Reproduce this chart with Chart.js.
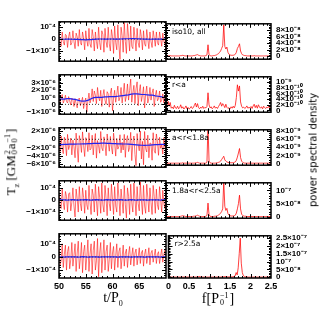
<!DOCTYPE html>
<html><head><meta charset="utf-8">
<script src="https://cdn.jsdelivr.net/npm/chart.js@4.4.0/dist/chart.umd.min.js"></script>
<style>
html,body{margin:0;padding:0;background:#fff;}
#wrap{position:relative;width:319px;height:319px;overflow:hidden;background:#fff;}
canvas{position:absolute;}
.t{position:absolute;color:#000;white-space:nowrap;line-height:1;will-change:transform;-webkit-font-smoothing:antialiased;}
.st{display:inline-flex;flex-direction:column;font-size:8px;line-height:7px;vertical-align:5px;margin:0 1px;}
sub{font-size:8px;}
</style></head><body><div id="wrap">
<div class="t" style="left:12px;top:162px;transform:translate(-50%,-50%) rotate(-90deg);font:13px 'Liberation Serif';">T<sub>z</sub> [GM<span class="st"><span>2</span><span>0</span></span>a<span class="st"><span>−1</span><span>0</span></span>]</div>
<div class="t" style="left:313px;top:150px;transform:translate(-50%,-50%) rotate(-90deg);font:10px 'DejaVu Sans';">power spectral density</div>
<div class="t" style="left:113px;top:299px;transform:translate(-50%,-50%);font:14px 'Liberation Serif';">t/P<sub>0</sub></div>
<div class="t" style="left:218px;top:299px;transform:translate(-50%,-50%);font:14px 'Liberation Serif';">f[P<span class="st"><span>−1</span><span>0</span></span>]</div>
</div>
<script>
// ---------------- DATA ----------------
const T_START = 50, T_STEP = 0.2, MEAN_STEP = 0.5, F_STEP = 0.025;
const PANEL_NAMES = ['iso10, all', 'r<a', 'a<r<1.8a', '1.8a<r<2.5a', 'r>2.5a'];

// torque time series (red), units given by TZ_UNITS
const TZ_ALL = [0.5,-0.3,-0.6,0.6,-0.2,-0.5,0.4,0.3,-0.7,0.2,0.6,-0.5,
 -0.3,0.7,-0.2,-0.8,0.5,0.2,-0.6,0.8,-0.3,-0.5,0.6,0.1,
 -0.9,0.7,-0.1,-0.6,0.9,-0.4,-0.7,0.8,0.2,-1.0,0.6,-0.2,
 -0.8,1.0,-0.3,-0.9,0.7,0.4,-1.1,0.9,-0.2,-0.7,1.0,-0.4,
 -1.0,0.8,0.2,-1.2,1.1,-0.3,-0.9,1.2,-0.5,-1.7,1.0,0.3,
 -1.1,1.4,-0.2,-1.2,1.3,0.2,-1.0,1.1,-0.6,-0.8,1.0,0.1,
 -1.0,0.9,-0.3,-0.7,0.8,0.2,-0.9,0.7,-0.4,-0.6,0.8,0.0,
 -0.8,0.6,-0.2,-0.7,0.7,0.1,-0.6,0.6,-0.3,-0.5,0.6,0.0,
 -0.6,0.5,-0.2,-0.4,0.5];
const TZ_IN = [1.2,0.3,0.9,1.4,0.2,0.6,1.3,0.4,0.2,1.1,0.5,-0.1,
 0.9,0.6,-0.3,0.8,0.1,-0.5,0.7,0.9,-0.2,0.4,1.0,-0.6,
 0.3,0.9,-1.1,0.5,1.6,0.2,0.8,2.2,0.4,1.9,1.3,0.1,
 2.4,1.0,0.5,2.0,-0.3,1.2,2.1,0.6,0.0,1.8,1.5,-0.4,
 1.6,2.3,-0.9,0.9,2.0,0.3,1.4,2.6,0.5,1.0,2.4,0.2,
 1.5,3.0,0.4,1.2,2.9,0.6,2.0,3.6,0.3,1.6,2.7,0.1,
 2.2,3.2,-0.2,1.8,2.8,0.4,1.3,2.5,-0.5,1.5,2.6,0.2,
 0.9,2.4,0.6,1.6,2.2,-0.3,1.2,2.0,0.5,0.8,1.9,0.3,
 0.6,1.5,0.2,1.1,0.8];
const TZ_MID = [-0.5,-3.0,0.8,-2.2,-3.5,0.5,-1.0,-4.0,1.2,-2.5,-1.5,0.3,
 -3.8,-0.2,-1.8,-4.5,1.5,-2.0,-5.6,0.9,-0.8,-3.2,1.8,-1.5,
 -4.2,0.4,-0.5,-3.0,1.6,-2.6,-2.2,1.0,-3.8,-0.6,1.4,-4.6,
 -0.3,-1.6,-3.4,1.9,-2.1,-2.8,0.6,-1.2,-4.0,1.3,-0.8,-2.9,
 0.7,-1.9,-3.6,1.5,-0.9,-4.1,0.2,-2.4,-1.7,1.1,-3.3,-0.7,
 -2.6,1.2,-4.4,-0.4,0.9,-3.0,-2.0,1.7,-5.2,-0.9,0.8,-3.7,
 -6.4,1.4,-1.2,-2.8,2.0,-4.8,-0.5,-6.2,1.9,-2.3,-3.1,1.0,
 -4.5,-0.9,-1.0,-5.1,1.6,-2.7,-3.4,1.3,-0.6,-3.9,0.5,-2.2,
 -1.4,-3.6,0.4,-2.0,-1.0];
const TZ_OUTER = [0.6,-0.4,-0.7,0.9,-0.2,-0.8,0.7,0.3,-1.0,0.5,0.6,-0.9,
 -0.2,1.0,-0.5,-1.4,0.9,0.1,-1.0,1.1,-0.3,-0.9,1.0,0.2,
 -1.1,0.8,-0.4,-0.8,1.2,-0.2,-1.2,0.9,0.4,-1.0,1.3,-0.1,
 -1.3,1.1,0.2,-1.1,1.4,-0.4,-1.0,1.2,0.1,-1.3,1.0,-0.3,
 -0.9,1.3,0.0,-1.2,1.1,-0.5,-1.0,1.4,0.2,-1.3,0.9,-0.1,
 -1.1,1.2,-0.4,-1.5,1.0,0.3,-1.2,1.3,-0.2,-1.0,1.4,0.1,
 -1.3,1.1,-0.3,-0.9,1.5,0.0,-1.2,1.2,-0.5,-1.1,1.3,0.2,
 -1.0,1.0,-0.2,-1.2,1.2,0.3,-1.1,0.9,-0.4,-0.8,1.1,0.0,
 -1.0,0.8,-0.3,-0.7,0.9];
const TZ_FAR = [0.7,-0.6,-0.3,1.0,-0.8,0.2,0.9,-1.0,0.4,0.8,-0.9,-0.2,
 1.1,-0.7,0.1,1.0,-1.1,0.3,1.2,-0.9,-0.1,1.1,-1.2,0.4,
 0.9,-1.0,0.0,1.3,-1.1,0.2,1.0,-1.3,0.5,1.2,-1.0,-0.3,
 1.4,-1.5,0.3,1.1,-1.2,0.0,1.3,-1.0,0.4,0.9,-1.1,-0.2,
 1.1,-0.9,0.3,0.8,-1.0,0.1,1.0,-0.8,0.4,0.7,-0.9,0.0,
 0.9,-0.7,0.3,0.6,-0.8,0.2,0.8,-0.6,0.1,0.7,-0.7,0.3,
 0.6,-0.6,0.0,0.7,-0.5,0.3,0.5,-0.7,0.2,0.6,-0.5,0.0,
 0.7,-0.6,0.3,0.5,-0.4,0.1,0.6,-0.5,0.2,0.4,-0.5,0.1,
 0.6,-0.4,0.2,0.5,-0.3];

// running mean (blue), same units
const MEAN_ALL = [0.0,-0.01,-0.01,0.0,0.0,-0.01,-0.02,-0.03,-0.04,-0.05,
 -0.06,-0.05,-0.04,-0.02,0.0,0.01,0.01,0.0,0.0,0.01,
 0.01,0.0,0.0,0.01,0.02,0.03,0.03,0.04,0.04,0.03,
 0.02,0.01,0.0,0.0,-0.01,0.0,0.0,0.01,0.0,-0.01,0.0];
const MEAN_IN = [0.8,0.75,0.75,0.8,0.8,0.75,0.7,0.6,0.5,0.45,
 0.5,0.6,0.8,0.95,1.0,1.0,1.0,1.05,1.05,1.1,
 1.1,1.1,1.15,1.2,1.25,1.3,1.35,1.45,1.5,1.5,
 1.45,1.4,1.4,1.35,1.3,1.3,1.2,1.15,1.1,1.0,0.9];
const MEAN_MID = [-1.3,-1.3,-1.25,-1.25,-1.2,-1.2,-1.2,-1.15,-1.15,-1.1,
 -1.1,-1.05,-1.05,-1.0,-1.0,-1.0,-0.95,-0.95,-1.0,-1.0,
 -1.05,-1.05,-1.1,-1.1,-1.15,-1.15,-1.2,-1.25,-1.3,-1.35,
 -1.4,-1.45,-1.5,-1.45,-1.4,-1.35,-1.3,-1.3,-1.25,-1.25,-1.2];
const MEAN_OUTER = [0.0,0.01,0.0,-0.01,0.0,0.02,0.0,-0.02,0.0,0.01,
 0.03,0.0,-0.02,0.0,0.02,0.01,-0.01,0.0,0.02,0.0,
 -0.02,0.0,0.01,0.02,0.0,-0.01,0.0,0.02,0.0,-0.01,
 0.0,0.01,0.0,-0.02,0.0,0.01,0.0,0.0,-0.01,0.0,0.0];
const MEAN_FAR = [0.01,0.0,-0.01,0.0,0.01,0.0,0.0,-0.01,0.0,0.02,
 0.0,-0.01,0.0,0.01,0.0,-0.02,0.0,0.01,0.0,0.0,
 0.01,0.0,-0.01,0.0,0.0,0.01,0.0,-0.01,0.0,0.01,
 0.0,0.0,-0.01,0.0,0.01,0.0,0.0,0.0,-0.01,0.0,0.0];
const TZ_UNITS = [1e-4, 1e-6, 1e-6, 1e-4, 1e-4];

// power spectral density, f = 0 .. 2.5 step F_STEP
const PSD_ALL = [0.3,0.2,0.1,0.1,0.2,0.1,0.1,0.1,0.1,0.1,
 0.1,0.1,0.1,0.1,0.2,0.2,0.3,0.2,0.1,0.1,
 0.1,0.1,0.1,0.1,0.1,0.1,0.2,0.2,0.3,0.4,
 0.5,0.3,0.2,0.1,0.1,0.1,0.1,0.1,0.2,0.4,
 3.5,0.5,0.2,0.1,0.1,0.2,0.2,0.3,0.4,0.6,
 0.8,1.2,1.6,2.4,3.2,9.6,3.0,2.2,2.8,1.2,
 0.6,0.4,0.3,0.3,0.3,0.4,0.6,1.2,2.4,3.0,
 3.8,1.6,0.8,0.4,0.3,0.2,0.2,0.1,0.1,0.1,
 0.1,0.1,0.1,0.1,0.2,0.1,0.1,0.1,0.1,0.1,
 0.1,0.1,0.1,0.1,0.1,0.1,0.1,0.1,0.1,0.1,0.1];
const PSD_IN = [1.0,2.0,3.2,1.5,2.8,0.8,1.2,0.6,1.8,0.9,
 0.7,1.5,0.6,1.0,2.0,0.8,1.3,0.5,0.9,1.6,
 0.6,1.1,0.5,0.8,1.4,0.7,1.0,1.8,2.6,1.2,
 2.4,1.0,0.6,1.2,0.8,1.5,0.7,1.1,0.9,1.4,
 6.2,2.0,0.9,1.3,0.6,1.0,1.6,0.8,1.2,0.7,
 1.4,2.0,2.8,1.5,2.4,1.8,1.0,2.2,1.1,0.7,
 1.0,0.6,1.3,0.8,1.5,0.9,1.8,4.5,9.0,6.8,
 8.6,3.0,1.5,0.9,1.2,0.7,1.0,1.6,0.8,1.1,
 0.9,1.4,0.7,1.6,2.2,1.0,1.8,0.8,2.0,1.2,
 0.8,1.3,0.6,1.5,1.0,0.7,1.2,0.9,1.6,0.8,1.0];
const PSD_MID = [0.2,0.1,0.1,0.1,0.1,0.1,0.1,0.1,0.1,0.1,
 0.1,0.1,0.1,0.1,0.1,0.1,0.2,0.1,0.1,0.1,
 0.1,0.1,0.1,0.1,0.1,0.1,0.1,0.1,0.2,0.2,
 0.3,0.2,0.1,0.1,0.1,0.1,0.1,0.1,0.1,0.3,
 9.5,0.6,0.2,0.1,0.1,0.1,0.1,0.1,0.2,0.2,
 0.3,0.4,0.6,1.0,1.4,1.8,0.9,0.6,0.4,0.3,
 0.2,0.2,0.2,0.2,0.2,0.3,0.4,0.8,1.6,2.6,
 3.7,1.5,0.6,0.3,0.2,0.1,0.1,0.1,0.1,0.1,
 0.1,0.1,0.1,0.1,0.1,0.1,0.1,0.1,0.1,0.1,
 0.1,0.1,0.1,0.1,0.1,0.1,0.1,0.1,0.1,0.1,0.1];
const PSD_OUTER = [0.2,0.1,0.1,0.1,0.1,0.1,0.1,0.1,0.1,0.1,
 0.1,0.1,0.1,0.1,0.2,0.3,0.4,0.3,0.2,0.1,
 0.1,0.1,0.1,0.1,0.1,0.1,0.2,0.2,0.3,0.4,
 0.6,0.4,0.2,0.1,0.1,0.1,0.1,0.1,0.2,0.5,
 5.2,0.8,0.2,0.1,0.1,0.1,0.2,0.2,0.3,0.4,
 0.6,1.0,1.4,2.0,3.0,13.5,4.0,2.4,3.2,1.2,
 0.6,0.4,0.3,0.3,0.3,0.4,0.6,1.4,3.0,5.0,
 8.2,3.0,1.0,0.5,0.3,0.2,0.2,0.1,0.1,0.1,
 0.1,0.1,0.1,0.1,0.1,0.1,0.1,0.1,0.1,0.1,
 0.1,0.1,0.1,0.1,0.1,0.1,0.1,0.1,0.1,0.1,0.1];
const PSD_FAR = [0.02,0.01,0.01,0.01,0.01,0.01,0.01,0.01,0.01,0.01,
 0.01,0.01,0.01,0.01,0.01,0.01,0.02,0.01,0.01,0.01,
 0.01,0.01,0.01,0.01,0.01,0.01,0.01,0.01,0.02,0.03,
 0.05,0.03,0.01,0.01,0.01,0.01,0.01,0.01,0.01,0.01,
 0.02,0.01,0.01,0.01,0.01,0.01,0.01,0.01,0.01,0.01,
 0.01,0.01,0.02,0.02,0.03,0.04,0.03,0.02,0.02,0.02,
 0.02,0.02,0.02,0.03,0.05,0.08,0.30,0.15,0.60,1.50,
 2.50,0.90,0.30,0.10,0.05,0.03,0.02,0.02,0.01,0.01,
 0.01,0.01,0.01,0.01,0.01,0.01,0.01,0.01,0.01,0.01,
 0.01,0.01,0.01,0.01,0.01,0.01,0.01,0.01,0.01,0.01,0.01];
const PSD_UNITS = [1e-8, 1e-10, 1e-9, 1e-8, 1e-7];

// axis ranges and tick labels
const TZ_RANGES = [[-1.85e-4,1.45e-4],[-1.4e-6,4.2e-6],[-6.8e-6,2.8e-6],[-1.67e-4,1.58e-4],[-1.6e-4,1.76e-4]];
const TZ_TICKS = [[-1e-4,0,1e-4],[-1e-6,0,1e-6,2e-6,3e-6],[-6e-6,-4e-6,-2e-6,0,2e-6],[-1e-4,0,1e-4],[-1e-4,0,1e-4]];
const TZ_TICK_LABELS = [['−1×10⁻⁴','0','10⁻⁴'],['−1×10⁻⁶','0','10⁻⁶','2×10⁻⁶','3×10⁻⁶'],['−6×10⁻⁶','−4×10⁻⁶','−2×10⁻⁶','0','2×10⁻⁶'],['−1×10⁻⁴','0','10⁻⁴'],['−1×10⁻⁴','0','10⁻⁴']];
const TZ_MINOR = [2e-5, 2e-7, 5e-7, 2e-5, 2e-5];
const PSD_RANGES = [[-0.9e-8,9.9e-8],[-0.6e-10,11.8e-10],[-0.4e-9,8.3e-9],[-0.54e-8,12.9e-8],[-0.05e-7,2.65e-7]];
const PSD_TICKS = [[0,2e-8,4e-8,6e-8,8e-8],[0,2e-10,4e-10,6e-10,8e-10,1e-9],[0,2e-9,4e-9,6e-9,8e-9],[0,5e-8,1e-7],[0,5e-8,1e-7,1.5e-7,2e-7,2.5e-7]];
const PSD_TICK_LABELS = [['0','2×10⁻⁸','4×10⁻⁸','6×10⁻⁸','8×10⁻⁸'],['0','2×10⁻¹⁰','4×10⁻¹⁰','6×10⁻¹⁰','8×10⁻¹⁰','10⁻⁹'],['0','2×10⁻⁹','4×10⁻⁹','6×10⁻⁹','8×10⁻⁹'],['0','5×10⁻⁸','10⁻⁷'],['0','5×10⁻⁸','10⁻⁷','1.5×10⁻⁷','2×10⁻⁷','2.5×10⁻⁷']];
const PSD_MINOR = [5e-9, 5e-11, 5e-10, 1e-8, 1e-8];
const T_TICKS = [50,55,60,65], T_MAJOR = [50,55,60,65,70];
const F_TICKS = [0,0.5,1,1.5,2,2.5];

const TZ_SERIES = [TZ_ALL, TZ_IN, TZ_MID, TZ_OUTER, TZ_FAR];
const MEAN_SERIES = [MEAN_ALL, MEAN_IN, MEAN_MID, MEAN_OUTER, MEAN_FAR];
const PSD_SERIES = [PSD_ALL, PSD_IN, PSD_MID, PSD_OUTER, PSD_FAR];

// ---------------- LAYOUT ----------------
const PANEL_TOPS = [17,70,123,176,229], PANEL_H = 49;
const PAD = 3;
const wrap = document.getElementById('wrap');

function pts(vals, x0, step, unit){ return vals.map((v,i)=>({x:x0+i*step, y:v*unit})); }
function stepVals(min,max,step){ const out=[]; const n0=Math.ceil(min/step-1e-9), n1=Math.floor(max/step+1e-9); for(let n=n0;n<=n1;n++) out.push(n*step); return out; }

const frameTicks = {
  id:'frameTicks',
  afterDatasetsDraw(chart, args, o){
    const {ctx, chartArea:a, scales:{x,y}} = chart;
    ctx.save();
    ctx.strokeStyle='#000'; ctx.lineWidth=1;
    const seg=(x1,y1,x2,y2)=>{ctx.beginPath();ctx.moveTo(x1,y1);ctx.lineTo(x2,y2);ctx.stroke();};
    const xs=(vals,len)=>vals.forEach(v=>{const p=Math.round(x.getPixelForValue(v))+0.5; if(p<a.left||p>a.right) return; seg(p,a.bottom,p,a.bottom-len); seg(p,a.top,p,a.top+len);});
    const ys=(vals,len)=>vals.forEach(v=>{const p=Math.round(y.getPixelForValue(v))+0.5; if(p<a.top||p>a.bottom) return; seg(a.left,p,a.left+len,p); seg(a.right,p,a.right-len,p);});
    xs(stepVals(x.min,x.max,o.xMinor),2); xs(o.xMajor,4);
    ys(stepVals(y.min,y.max,o.yMinor),2); ys(o.yMajor,4);
    ctx.lineWidth=1.5;
    ctx.strokeRect(a.left,a.top,a.right-a.left,a.bottom-a.top);
    if(o.label){ ctx.fillStyle='#000'; ctx.font='7.5px "DejaVu Sans"'; ctx.textBaseline='alphabetic'; ctx.fillText(o.label,a.left+6,a.top+10); }
    ctx.restore();
  }
};

const TICK_FONT = {family:'Liberation Sans', size:8, weight:'bold'};
const XTICK_FONT = {family:'Liberation Sans', size:9, weight:'bold'};

function addCanvas(left, top, w, h){
  const c=document.createElement('canvas'); c.width=w; c.height=h;
  c.style.left=left+'px'; c.style.top=top+'px'; c.style.width=w+'px'; c.style.height=h+'px';
  wrap.appendChild(c); return c;
}

for(let i=0;i<5;i++){
  const bottom = i===4;
  const h = PAD + PANEL_H + (bottom?16:PAD);
  const xH = bottom?16:0;
  // ---- left: time series ----
  const cl = addCanvas(0, PANEL_TOPS[i]-PAD, 169, h);
  const u = TZ_UNITS[i];
  new Chart(cl, {
    type:'line',
    data:{datasets:[
      {data: pts(MEAN_SERIES[i], T_START, MEAN_STEP, u), borderColor:'#2222ee', borderWidth:1.2, pointRadius:0},
      {data: [{x:50,y:0},{x:70,y:0}], borderColor:'#000', borderWidth:0.8, borderDash:[1,2], pointRadius:0},
      {data: pts(TZ_SERIES[i], T_START, T_STEP, u), borderColor:'rgba(255,0,0,0.62)', borderWidth:0.9, pointRadius:0, clip:0}
    ]},
    options:{
      animation:false, responsive:false, events:[],
      layout:{padding:{left:0,right:PAD,top:PAD,bottom:bottom?0:PAD}},
      plugins:{legend:{display:false}, tooltip:{enabled:false},
        frameTicks:{xMajor:T_MAJOR, xMinor:1, yMajor:TZ_TICKS[i], yMinor:TZ_MINOR[i]}},
      scales:{
        x:{type:'linear', min:50, max:70, display:bottom,
           grid:{display:false, drawTicks:false}, border:{display:false},
           ticks:{padding:3, font:XTICK_FONT, color:'#000', autoSkip:false, maxRotation:0, callback:v=>String(v)},
           afterBuildTicks:s=>{s.ticks=T_TICKS.map(v=>({value:v}));},
           afterFit:s=>{s.height=xH;}},
        y:{type:'linear', position:'left', min:TZ_RANGES[i][0], max:TZ_RANGES[i][1],
           grid:{display:false, drawTicks:false}, border:{display:false},
           ticks:{padding:3, font:TICK_FONT, color:'#000', autoSkip:false,
                  callback:v=>{const k=TZ_TICKS[i].indexOf(v); return k>=0?TZ_TICK_LABELS[i][k]:'';}},
           afterBuildTicks:s=>{s.ticks=TZ_TICKS[i].map(v=>({value:v}));},
           afterFit:s=>{s.width=59;}}
      }
    },
    plugins:[frameTicks]
  });
  // ---- right: power spectral density ----
  const cr = addCanvas(163, PANEL_TOPS[i]-PAD, 156, h);
  const pu = PSD_UNITS[i];
  new Chart(cr, {
    type:'line',
    data:{datasets:[
      {data: pts(PSD_SERIES[i], 0, F_STEP, pu), borderColor:'rgba(255,0,0,0.75)', borderWidth:1, pointRadius:0, clip:0}
    ]},
    options:{
      animation:false, responsive:false, events:[],
      layout:{padding:{left:PAD,right:0,top:PAD,bottom:bottom?0:PAD}},
      plugins:{legend:{display:false}, tooltip:{enabled:false},
        frameTicks:{xMajor:F_TICKS, xMinor:0.1, yMajor:PSD_TICKS[i], yMinor:PSD_MINOR[i], label:PANEL_NAMES[i]}},
      scales:{
        x:{type:'linear', min:0, max:2.5, display:bottom,
           grid:{display:false, drawTicks:false}, border:{display:false},
           ticks:{padding:3, font:XTICK_FONT, color:'#000', autoSkip:false, maxRotation:0, callback:v=>String(v)},
           afterBuildTicks:s=>{s.ticks=F_TICKS.map(v=>({value:v}));},
           afterFit:s=>{s.height=xH;}},
        y:{type:'linear', position:'right', min:PSD_RANGES[i][0], max:PSD_RANGES[i][1],
           grid:{display:false, drawTicks:false}, border:{display:false},
           ticks:{padding:5, font:TICK_FONT, color:'#000', autoSkip:false,
                  callback:v=>{const k=PSD_TICKS[i].indexOf(v); return k>=0?PSD_TICK_LABELS[i][k]:'';}},
           afterBuildTicks:s=>{s.ticks=PSD_TICKS[i].map(v=>({value:v}));},
           afterFit:s=>{s.width=48;}}
      }
    },
    plugins:[frameTicks]
  });
}
</script></body></html>
